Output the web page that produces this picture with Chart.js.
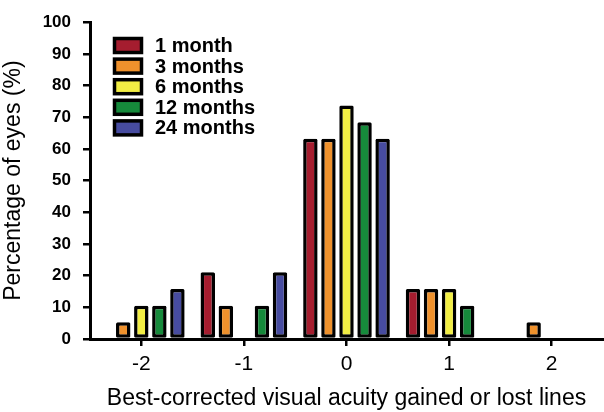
<!DOCTYPE html>
<html>
<head>
<meta charset="utf-8">
<script src="https://cdn.jsdelivr.net/npm/chart.js@4/dist/chart.umd.min.js"></script>
<style>
  html, body { margin: 0; padding: 0; background: #fff; }
  #wrap { width: 604px; height: 412px; }
</style>
</head>
<body>
<div id="wrap"><canvas id="c" width="604" height="412"></canvas></div>
<script>
// Lines gained (+) or lost (-) in best-corrected visual acuity
const categories = ['-2', '-1', '0', '1', '2'];

// Percentage of eyes at each follow-up visit
const month1  = [0,    21.1, 63.2, 15.8, 0];
const month3  = [5.3,  10.5, 63.2, 15.8, 5.3];
const month6  = [10.5, 0,    73.7, 15.8, 0];
const month12 = [10.5, 10.5, 68.4, 10.5, 0];
const month24 = [15.8, 21.1, 63.2, 0,    0];

const seriesLabels = ['1 month', '3 months', '6 months', '12 months', '24 months'];
const seriesColors = ['#a51d2f', '#ef912c', '#f2ee44', '#168a3b', '#474ca0'];
const seriesValues = [month1, month3, month6, month12, month24];

const yTicks = { min: 0, max: 100, step: 10 };

const FONT = '"Liberation Sans", Arial, Helvetica, sans-serif';

// Legend drawn inside the plot area, upper left
const insideLegend = {
  id: 'insideLegend',
  afterDraw(chart) {
    const ctx = chart.ctx;
    const boxX = 114.5, boxW = 27, boxH = 14;
    const startY = 45.5, rowH = 20.6;
    ctx.save();
    ctx.font = 'bold 20px ' + FONT;
    ctx.textBaseline = 'middle';
    ctx.textAlign = 'left';
    chart.data.datasets.forEach((ds, i) => {
      const cy = startY + i * rowH;
      ctx.fillStyle = ds.backgroundColor;
      ctx.strokeStyle = '#000';
      ctx.lineWidth = 3.5;
      ctx.fillRect(boxX, cy - boxH / 2, boxW, boxH);
      ctx.strokeRect(boxX, cy - boxH / 2, boxW, boxH);
      ctx.fillStyle = '#000';
      ctx.fillText(ds.label, 155, cy + 1);
    });
    ctx.restore();
  }
};

new Chart(document.getElementById('c'), {
  type: 'bar',
  data: {
    labels: categories,
    datasets: seriesLabels.map((label, i) => ({
      label: label,
      data: seriesValues[i],
      backgroundColor: seriesColors[i],
      borderColor: '#000',
      borderWidth: 3.5,
      borderRadius: 1.5,
      borderSkipped: false,
      categoryPercentage: 0.88,
      barPercentage: 0.8
    }))
  },
  options: {
    responsive: false,
    animation: false,
    devicePixelRatio: 1,
    layout: { padding: { top: 19, right: 1, left: 0, bottom: 0 } },
    plugins: {
      legend: { display: false },
      tooltip: { enabled: false }
    },
    scales: {
      x: {
        offset: true,
        grid: {
          offset: false,
          drawOnChartArea: false,
          drawTicks: true,
          tickLength: 7,
          color: '#000',
          lineWidth: 2.5
        },
        border: { display: true, color: '#000', width: 3 },
        ticks: {
          color: '#000',
          padding: 6,
          font: { family: FONT, size: 21 }
        },
        title: {
          display: true,
          text: 'Best-corrected visual acuity gained or lost lines',
          color: '#000',
          font: { family: FONT, size: 23 },
          padding: { top: 7, bottom: 0 }
        },
        afterFit(scale) { scale.height = 73; }
      },
      y: {
        min: yTicks.min,
        max: yTicks.max,
        grid: {
          drawOnChartArea: false,
          drawTicks: true,
          tickLength: 7,
          color: '#000',
          lineWidth: 2.5
        },
        border: { display: true, color: '#000', width: 3 },
        ticks: {
          stepSize: yTicks.step,
          color: '#000',
          padding: 12,
          font: { family: FONT, size: 17, weight: 'bold' }
        },
        title: {
          display: true,
          text: 'Percentage of eyes (%)',
          color: '#000',
          font: { family: FONT, size: 23 },
          padding: { top: 0, bottom: 5 }
        },
        afterFit(scale) { scale.width = 90; }
      }
    }
  },
  plugins: [insideLegend]
});
</script>
</body>
</html>
